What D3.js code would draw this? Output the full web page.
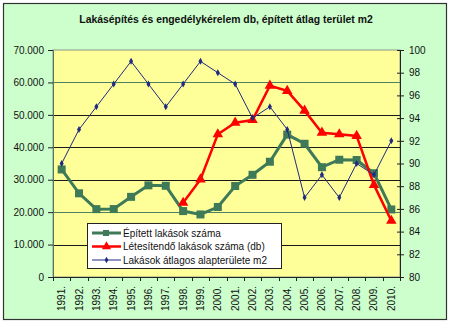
<!DOCTYPE html>
<html>
<head>
<meta charset="utf-8">
<script src="https://cdn.jsdelivr.net/npm/d3@7"></script>
<style>
  html, body { margin: 0; padding: 0; background: #fff; }
  svg text { font-family: Arial, "Liberation Sans", sans-serif; }
</style>
</head>
<body>
<svg id="chart" width="450" height="324"></svg>
<script>
// Years on the category axis
const years = ["1991.","1992.","1993.","1994.","1995.","1996.","1997.","1998.","1999.","2000.",
               "2001.","2002.","2003.","2004.","2005.","2006.","2007.","2008.","2009.","2010."];

// Dwellings built (left axis)
const built = [33164, 25807, 20925, 20947, 24718, 28257, 28130, 20323, 19287, 21583,
               28054, 31511, 35543, 43913, 41084, 33864, 36159, 36075, 31994, 20823];

// Dwellings to be built per permits (left axis), available from 1998
const permits = [null, null, null, null, null, null, null, 22900, 30100, 44000,
                 47600, 48400, 58995, 57400, 51300, 44500, 44000, 43500, 28400, 17353];

// Average floor area of dwellings, m2 (right axis)
const avgArea = [90, 93, 95, 97, 99, 97, 95, 97, 99, 98,
                 97, 94, 95, 93, 87, 89, 87, 90, 89, 92];

const leftTicks = [0, 10000, 20000, 30000, 40000, 50000, 60000, 70000];
const rightTicks = [80, 82, 84, 86, 88, 90, 92, 94, 96, 98, 100];

const seriesNames = ["Épített lakások száma", "Létesítendő lakások száma (db)", "Lakások átlagos alapterülete m2"];
const titleText = "Lakásépítés és engedélykérelem db, épített átlag terület m2";

const svg = d3.select("#chart");
const plot = { left: 53, right: 400, top: 50, bottom: 277 };

// chart background
svg.append("rect").attr("x", 3.5).attr("y", 3.5).attr("width", 443).attr("height", 316)
  .attr("fill", "#ccffcc").attr("stroke", "#333").attr("stroke-width", 1.2);

svg.append("text").attr("x", 226).attr("y", 23).attr("text-anchor", "middle")
  .attr("font-size", 10.4).attr("font-weight", "bold").attr("fill", "#111")
  .text(titleText);

// plot area
svg.append("rect").attr("x", plot.left).attr("y", plot.top)
  .attr("width", plot.right - plot.left).attr("height", plot.bottom - plot.top)
  .attr("fill", "#ffff99").attr("stroke", "#8a9a8a").attr("stroke-width", 1);

const x = d3.scaleBand().domain(years).range([plot.left, plot.right]).padding(0);
const yL = d3.scaleLinear().domain([0, 70000]).range([plot.bottom, plot.top]);
const yR = d3.scaleLinear().domain([80, 100]).range([plot.bottom, plot.top]);
const cx = d => x(d) + x.bandwidth() / 2;

// horizontal gridlines
svg.append("g").selectAll("line").data(leftTicks.filter(t => t > 0 && t < 70000)).join("line")
  .attr("x1", plot.left).attr("x2", plot.right)
  .attr("y1", d => Math.round(yL(d)) + 0.5).attr("y2", d => Math.round(yL(d)) + 0.5)
  .attr("stroke", d => (d === 60000 || d === 20000) ? "#4f8065" : "#1a1a1a")
  .attr("stroke-width", 1);

// left axis
const fmt = d => d === 0 ? "0" : d3.format(",")(d).replace(/,/g, ".");
const gL = svg.append("g").attr("transform", `translate(${plot.left},0)`)
  .call(d3.axisLeft(yL).tickValues(leftTicks).tickFormat(fmt).tickSize(5).tickPadding(4));
gL.select(".domain").attr("stroke", "#4f7a60");
gL.selectAll(".tick line").attr("stroke", "#222");
gL.selectAll("text").attr("font-size", 10).attr("fill", "#111").attr("font-family", "Arial, 'Liberation Sans', sans-serif");

// right axis
const gR = svg.append("g").attr("transform", `translate(${plot.right},0)`)
  .call(d3.axisRight(yR).tickValues(rightTicks).tickSize(4).tickPadding(5));
gR.select(".domain").attr("stroke", "#222");
gR.selectAll(".tick line").attr("stroke", "#222").attr("x1", -3);
gR.selectAll("text").attr("font-size", 10).attr("fill", "#111").attr("font-family", "Arial, 'Liberation Sans', sans-serif");

// bottom axis: ticks at band boundaries, rotated year labels
const gB = svg.append("g").attr("transform", `translate(0,${plot.bottom})`);
gB.append("line").attr("x1", plot.left).attr("x2", plot.right).attr("y1", 0.5).attr("y2", 0.5).attr("stroke", "#222");
gB.selectAll("line.tk").data(years.concat(["end"])).join("line").attr("class", "tk")
  .attr("x1", (d, i) => Math.round(plot.left + i * x.bandwidth()) + 0.5)
  .attr("x2", (d, i) => Math.round(plot.left + i * x.bandwidth()) + 0.5)
  .attr("y1", 0).attr("y2", 4).attr("stroke", "#222");
gB.selectAll("text").data(years).join("text")
  .attr("transform", d => `translate(${cx(d) + 3.5},9) rotate(-90)`)
  .attr("text-anchor", "end").attr("font-size", 10).attr("fill", "#111")
  .text(d => d);

// series
const lineL = d3.line().defined(d => d.v != null).x(d => cx(d.y)).y(d => yL(d.v));
const lineR = d3.line().x(d => cx(d.y)).y(d => yR(d.v));

const builtData = years.map((y, i) => ({ y, v: built[i] }));
const permitData = years.map((y, i) => ({ y, v: permits[i] })).filter(d => d.v != null);
const areaData = years.map((y, i) => ({ y, v: avgArea[i] }));

const green = "#3f7a58", red = "#ff0000", navy = "#1f2a80";

svg.append("path").datum(builtData).attr("d", lineL)
  .attr("fill", "none").attr("stroke", green).attr("stroke-width", 3);
svg.append("g").selectAll("rect").data(builtData).join("rect")
  .attr("x", d => cx(d.y) - 4).attr("y", d => yL(d.v) - 4)
  .attr("width", 8).attr("height", 8).attr("fill", green);

const tri = d3.symbol().type(d3.symbolTriangle).size(48);
svg.append("path").datum(permitData).attr("d", lineL)
  .attr("fill", "none").attr("stroke", red).attr("stroke-width", 2.5);
svg.append("g").selectAll("path").data(permitData).join("path")
  .attr("transform", d => `translate(${cx(d.y)},${yL(d.v)})`)
  .attr("d", tri).attr("fill", red);

const dia = d3.symbol().type(d3.symbolDiamond).size(14);
svg.append("path").datum(areaData).attr("d", lineR)
  .attr("fill", "none").attr("stroke", navy).attr("stroke-width", 1);
svg.append("g").selectAll("path").data(areaData).join("path")
  .attr("transform", d => `translate(${cx(d.y)},${yR(d.v)})`)
  .attr("d", dia).attr("fill", navy);

// legend
const lg = svg.append("g");
lg.append("rect").attr("x", 87.5).attr("y", 223.5).attr("width", 194).attr("height", 45)
  .attr("fill", "#fff").attr("stroke", "#222");
const rows = [
  { name: seriesNames[0], color: green, w: 3, mark: "sq" },
  { name: seriesNames[1], color: red, w: 2.5, mark: "tri" },
  { name: seriesNames[2], color: navy, w: 1, mark: "dia" }
];
rows.forEach((r, i) => {
  const yy = 233 + i * 13.5;
  lg.append("line").attr("x1", 92).attr("x2", 121).attr("y1", yy).attr("y2", yy)
    .attr("stroke", r.color).attr("stroke-width", r.w);
  if (r.mark === "sq") {
    lg.append("rect").attr("x", 103).attr("y", yy - 3).attr("width", 6).attr("height", 6).attr("fill", r.color);
  } else if (r.mark === "tri") {
    lg.append("path").attr("transform", `translate(106.5,${yy})`).attr("d", d3.symbol().type(d3.symbolTriangle).size(36)).attr("fill", r.color);
  } else {
    lg.append("path").attr("transform", `translate(106.5,${yy})`).attr("d", d3.symbol().type(d3.symbolDiamond).size(12)).attr("fill", r.color);
  }
  lg.append("text").attr("x", 123).attr("y", yy + 3.5).attr("font-size", 10).attr("fill", "#111").text(r.name);
});
</script>
</body>
</html>
